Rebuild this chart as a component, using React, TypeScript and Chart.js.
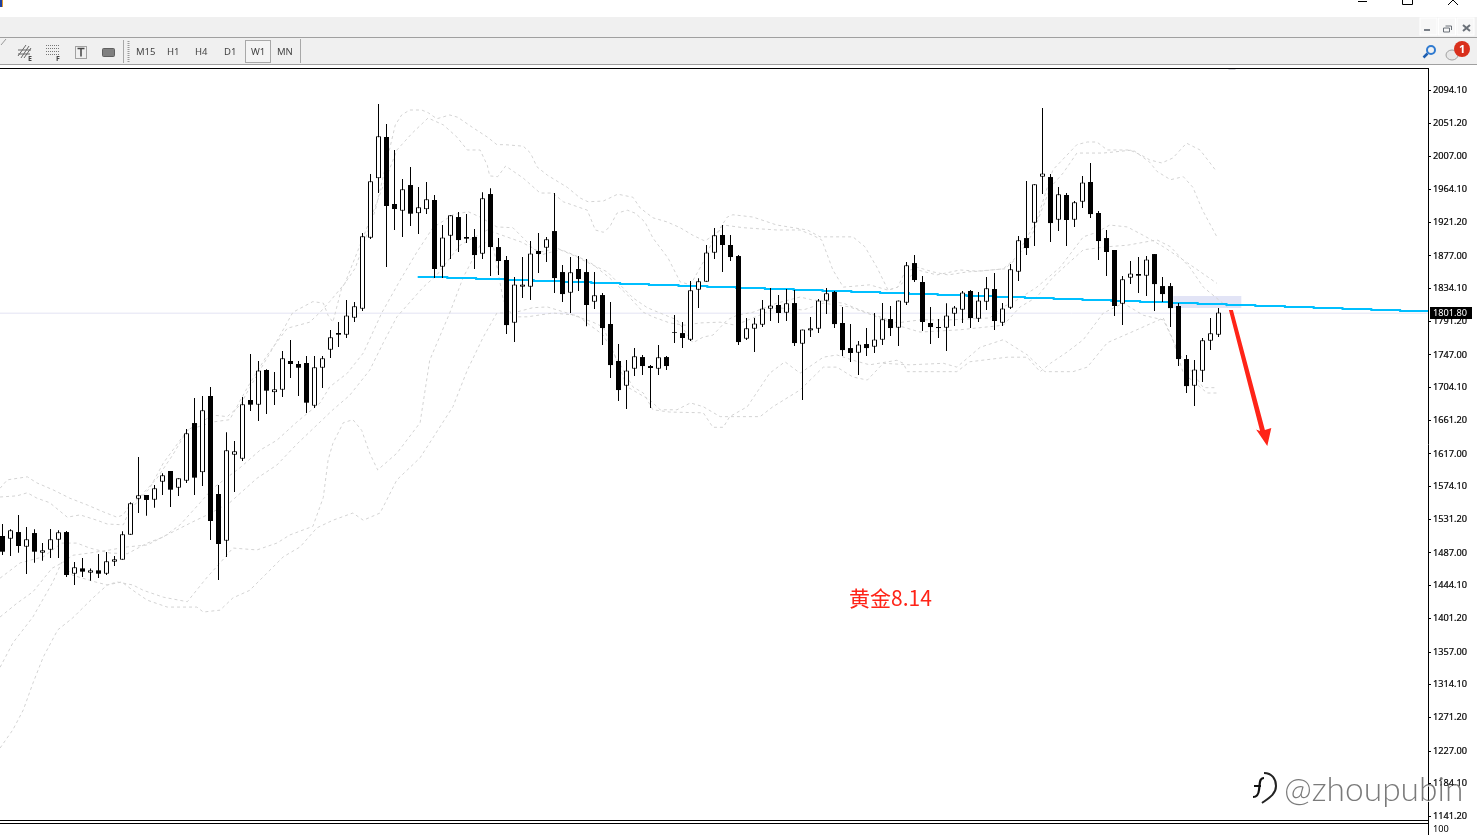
import React, { useEffect, useRef } from "react";
import { Chart, registerables } from "chart.js";

Chart.register(...registerables);

const highs = [1525.0,1518.0,1536.9,1521.1,1518.0,1500.1,1518.5,1516.7,1515.9,1475.2,1480.4,1466.8,1485.7,1488.3,1483.0,1515.4,1553.5,1613.0,1563.1,1576.2,1591.6,1594.6,1585.0,1649.8,1690.5,1693.1,1704.9,1576.2,1645.4,1634.0,
1691.8,1748.2,1739.0,1728.1,1724.6,1752.1,1766.6,1739.0,1745.6,1745.6,1745.6,1779.7,1790.2,1819.1,1816.5,1907.0,1984.5,2076.4,2050.1,2016.0,1977.9,1993.7,1967.4,1974.0,1956.9,1917.5,1930.2,1934.6,1932.0,
1912.3,1960.4,1965.7,1900.5,1876.8,1849.3,1875.5,1896.5,1907.0,1901.8,1959.5,1865.0,1875.5,1876.8,1872.9,1855.8,1828.3,1816.4,1761.3,1740.3,1756.0,1746.9,1733.7,1760.0,1745.5,1799.4,1790.2,1844.0,1847.5,1891.3,1913.6,
1917.5,1904.4,1878.1,1795.4,1795.4,1819.0,1834.8,1825.6,1833.5,1832.2,1780.5,1796.7,1820.4,1834.8,1830.9,1809.9,1787.5,1765.2,1782.3,1802.0,1815.1,1811.2,1818.6,1868.9,1878.1,1850.6,1809.9,1794.1,1814.7,1811.2,
1830.9,1832.2,1829.5,1849.2,1854.5,1815.1,1866.3,1903.1,1975.3,1970.9,2071.1,1984.5,1967.4,1959.5,1949.0,1981.8,1998.9,1935.9,1910.9,1884.7,1850.5,1870.2,1875.5,1876.8,1879.4,1849.2,1841.4,1815.1,1746.8,1740.3,1769.2,1795.4,1808.5];

const lows = [1484.3,1483.0,1487.4,1459.4,1474.3,1476.9,1480.4,1480.4,1455.5,1445.0,1455.5,1450.7,1454.2,1458.1,1469.9,1478.2,1511.0,1539.5,1536.0,1546.5,1563.1,1547.4,1561.8,1578.9,1563.1,1574.9,1504.0,1451.5,1481.7,1567.1,
1607.8,1673.4,1660.2,1669.4,1681.2,1691.7,1716.7,1693.0,1670.7,1677.3,1703.5,1742.9,1757.4,1769.2,1790.2,1804.6,1899.2,1959.5,1862.4,1911.0,1901.8,1916.2,1905.7,1932.0,1848.0,1848.0,1872.9,1882.1,1893.9,
1859.8,1872.9,1850.6,1851.9,1774.4,1763.9,1821.7,1819.1,1854.5,1869.0,1828.3,1816.4,1802.0,1830.9,1784.5,1807.2,1760.0,1716.7,1686.5,1676.0,1719.3,1720.6,1677.3,1720.6,1727.2,1762.6,1756.0,1765.2,1808.6,1843.1,1872.9,
1855.8,1870.2,1760.0,1766.5,1750.8,1783.6,1791.5,1788.9,1791.5,1758.7,1687.8,1770.5,1775.7,1800.7,1782.3,1745.5,1737.7,1720.6,1745.5,1749.5,1760.0,1771.8,1758.7,1812.5,1842.7,1778.4,1761.3,1769.2,1752.1,1784.9,
1788.8,1782.3,1790.2,1805.9,1779.7,1784.9,1807.2,1844.0,1878.1,1889.9,1958.2,1895.2,1909.6,1889.9,1914.9,1939.8,1926.7,1871.6,1850.5,1798.0,1786.2,1840.0,1828.2,1824.3,1804.6,1816.4,1783.6,1732.4,1696.9,1679.9,1711.4,1753.4,1770.5];

const opens = [1509.3,1505.8,1514.5,1495.3,1513.2,1487.4,1491.3,1504.5,1514.5,1459.8,1466.8,1461.2,1464.2,1459.8,1475.6,1478.2,1511.0,1558.3,1563.1,1557.0,1580.6,1594.6,1572.7,1581.9,1657.6,1592.9,1693.1,1564.4,1503.2,1616.1,
1610.8,1687.8,1681.7,1727.2,1697.9,1701.4,1739.0,1735.1,1736.4,1680.4,1730.2,1753.9,1775.8,1773.6,1795.9,1807.7,1900.9,1978.8,2033.1,1945.1,1936.4,1970.0,1932.9,1938.1,1950.4,1862.8,1903.5,1928.0,1901.8,
1901.8,1879.9,1958.2,1888.6,1871.6,1789.3,1836.6,1836.6,1883.4,1887.8,1909.6,1855.8,1828.7,1859.8,1855.8,1816.9,1825.6,1787.6,1739.0,1706.6,1728.9,1744.2,1732.4,1728.9,1744.2,1777.1,1775.7,1767.0,1832.6,1843.1,1881.2,
1904.4,1891.3,1876.8,1768.3,1781.4,1786.7,1807.7,1812.5,1802.4,1815.1,1761.7,1779.2,1781.4,1818.2,1829.6,1788.9,1756.0,1749.9,1761.3,1757.8,1767.0,1794.1,1782.7,1815.5,1867.6,1842.7,1788.9,1783.6,1782.7,1801.1,
1806.3,1830.9,1794.5,1816.9,1833.5,1789.3,1809.0,1856.2,1900.4,1920.6,1981.0,1980.5,1924.5,1956.9,1924.5,1948.1,1974.0,1933.3,1900.4,1884.7,1814.2,1848.4,1853.2,1851.0,1879.4,1837.4,1837.4,1811.2,1741.6,1706.6,1726.3,1765.7,1773.5];

const closes = [1488.7,1516.7,1496.2,1504.9,1488.7,1490.5,1504.9,1514.1,1458.1,1468.2,1462.5,1464.2,1459.8,1476.0,1478.7,1511.5,1552.2,1562.7,1556.6,1571.9,1588.9,1570.1,1585.0,1644.1,1585.9,1674.3,1529.0,1498.8,1621.8,1620.4,
1682.1,1681.7,1726.7,1700.1,1701.8,1742.5,1735.1,1730.2,1684.3,1730.7,1742.5,1770.1,1773.6,1798.9,1810.8,1902.7,1974.9,2033.9,1942.5,1938.5,1964.4,1932.4,1940.7,1951.2,1859.8,1901.3,1930.2,1897.8,1899.6,
1878.1,1952.5,1888.6,1870.3,1786.2,1839.6,1839.6,1880.3,1879.5,1898.7,1847.9,1826.9,1855.4,1846.6,1812.5,1825.2,1782.3,1733.7,1700.9,1726.7,1745.1,1732.4,1729.8,1743.8,1732.4,1776.2,1769.2,1831.8,1843.6,1881.6,1904.0,
1891.3,1875.5,1763.9,1781.9,1788.4,1808.1,1812.0,1802.0,1814.7,1762.6,1780.5,1781.9,1818.6,1827.8,1787.5,1753.4,1749.5,1760.8,1756.0,1767.4,1793.7,1782.3,1818.6,1864.6,1845.3,1790.2,1783.6,1782.3,1798.9,1809.4,
1829.1,1795.4,1818.6,1834.4,1791.5,1808.1,1859.3,1897.4,1887.3,1970.9,1985.3,1920.1,1957.8,1924.1,1947.3,1973.5,1931.9,1896.5,1882.1,1811.2,1846.2,1854.0,1851.0,1872.4,1840.0,1826.9,1808.5,1741.6,1706.1,1728.0,1766.1,1775.3,1802.8];

const yTickValues = [2094.1,2051.2,2007.0,1964.1,1921.2,1877.0,1834.1,1791.2,1747.0,1704.1,1661.2,1617.0,1574.1,1531.2,1487.0,1444.1,1401.2,1357.0,1314.1,1271.2,1227.0,1184.1,1141.2];

type Pt = [number, number];
const upperA: Pt[] = [[-0.3,1572],[0.6,1583],[3.1,1587],[4.3,1579],[6.3,1570],[8.4,1559],[10.6,1550],[12.6,1541],[14.3,1534],[15.1,1537],[15.7,1547],[17.2,1561],[19.3,1585],[21.3,1616],[23.1,1648],[26.3,1668],[28.1,1666],[29.7,1681],[30.9,1704],[33.8,1756],[36.3,1803],[38.8,1817],[40.1,1815],[40.7,1799],[41.3,1790],[42.4,1835],[44.1,1861],[46.6,1937],[49.1,2049],[49.9,2062],[50.9,2068.5],[52.4,2068.5],[53.2,2065],[54.3,2057],[55.9,2062],[56.9,2059],[58.7,2046],[60.6,2033],[61.8,2023],[62.8,2023],[65.1,2021],[66,2012],[66.8,1994],[68.1,1983],[70.6,1967],[72.2,1953],[73.2,1948],[75.1,1949],[76.9,1958],[78.8,1954],[79.7,1940],[81.3,1927],[83.1,1921.5],[84.7,1914],[86.3,1904],[87.8,1896.5],[89.3,1907],[90.6,1928],[91.3,1931],[93.8,1928],[96.8,1917.5],[100.6,1911],[102.2,1902],[106.3,1902],[107.8,1889],[109.3,1862],[110.7,1832],[111.9,1836],[112.8,1856],[114.4,1862],[116.3,1856],[118.2,1852],[120.6,1856],[122.2,1857],[125.1,1860],[126.6,1874],[128.1,1902],[129.3,1924],[131.3,1990],[134.3,2023],[135.6,2026.5],[136.8,2026.5],[138.1,2016],[140.9,2016],[142.4,2009],[143.4,2003],[144.9,1999],[146.3,2005.5],[148,2025],[149.7,2016],[151.6,1990]];
const upperB: Pt[] = [[-0.3,1560.5],[1.8,1562],[3.1,1566],[4.3,1559],[5.9,1553],[8.1,1534],[9.7,1537],[11.8,1530],[13.1,1525],[15.1,1524],[15.9,1543],[18.4,1572],[20.1,1605],[23.1,1648],[26.3,1659],[28.4,1662],[30.6,1704],[33.1,1747],[35.6,1782],[38.4,1790],[39.7,1803],[40.9,1817],[42.8,1841],[46.2,1931],[49.3,2016],[51.2,2038],[53.2,2058],[55.1,2049],[56.8,2033],[58.1,2016],[59.7,2016],[60.6,1996],[60.9,1982],[61.9,1981],[62.9,1995],[65.1,1979],[67.2,1959.5],[68.8,1959.5],[70.1,1948],[73.1,1937],[74.1,1911],[75.1,1908],[75.9,1915],[76.8,1933],[78.1,1937],[79.1,1933],[80.3,1921.5],[81.3,1900.5],[83.2,1874],[84.7,1843],[86,1839],[87.6,1869],[88.8,1898],[90.1,1917.5],[92.6,1914],[96.8,1911],[99.7,1911],[101.3,1904],[102.4,1898],[103.8,1858.5],[105.1,1836],[108.4,1839],[110.7,1832],[111.9,1836],[114.4,1858.5],[116.8,1852],[119.7,1858.5],[121.8,1857],[125.3,1860],[126.8,1874],[128.8,1907],[131,1967],[132.6,1986],[134.3,2012],[137.6,2012],[141.3,2016],[143.4,2000],[144.3,1988],[146,1977],[147.6,1981],[148.8,1967],[150,1937],[151.8,1902]];
const midA: Pt[] = [[-0.3,1454],[2.2,1474],[5.1,1482],[7.4,1500],[9.3,1500],[10.9,1493.5],[13.4,1487],[15.6,1486],[18.1,1500],[20.1,1508],[22.2,1524],[24.7,1553],[26.3,1572],[29.7,1599],[32.2,1622],[34.3,1635],[36.8,1659],[39.7,1684],[40.9,1705],[43.1,1723],[45.1,1749.5],[47.4,1802],[49.7,1845],[51.8,1882],[53.8,1914],[56.3,1931],[58.2,1935],[59.7,1928],[61.8,1915],[63.8,1914],[65.6,1895],[67.2,1878],[69.7,1885],[71.3,1878],[73.8,1865],[75.6,1856],[77.2,1839],[78.8,1822],[80.6,1809],[82.2,1802],[84.3,1793],[86.3,1763],[87.6,1770.5],[88.8,1773],[90.6,1793],[91.8,1799],[93.8,1803],[96.8,1815],[99.7,1823],[101.3,1819],[105.1,1815],[107.2,1806],[110.1,1795.5],[111.8,1789],[114.7,1793],[118.4,1793],[123.4,1795.5],[125.1,1810],[126.8,1819],[129.3,1836],[132.2,1862],[135.1,1902],[136.8,1908],[138.4,1917.5],[140.6,1915],[142.6,1904],[145.1,1889],[148.1,1868],[151.8,1841]];
const midB: Pt[] = [[-0.3,1403],[1.8,1421],[3.8,1436],[6.2,1467],[7.6,1475],[8.8,1484],[10.9,1487],[13.4,1491],[15.6,1495],[18.1,1497.5],[20.6,1511],[23.8,1528],[25.6,1537],[28.4,1553],[31.8,1585],[34.3,1602.5],[36.9,1631],[39.7,1659],[41.3,1675],[43.4,1694],[45.9,1727],[47.6,1763],[49.3,1797],[52.6,1836],[54.3,1852],[57.2,1891],[60.6,1911],[64.9,1895],[67.2,1882],[69.3,1887],[70.6,1882],[73.4,1869],[75.9,1848],[78.1,1826],[80.1,1803],[81.3,1797],[83.4,1789],[85.3,1786],[87.2,1789],[89.7,1790],[91.6,1786],[93.8,1795.5],[96.8,1809],[100.1,1806],[102.6,1815],[105.9,1810],[109.3,1797],[111.8,1786],[114.7,1777],[119.7,1780],[125.1,1786],[127.2,1810],[129.3,1823],[131.3,1849],[135.1,1885],[138.1,1889],[140.6,1891],[144.3,1898],[146,1889],[148.4,1862],[150.1,1836],[153.1,1810]];
const lowerA: Pt[] = [[-0.3,1231],[1.3,1255],[2.6,1281],[3.8,1316],[5.1,1350.5],[6.9,1386],[8.8,1402],[11.3,1428],[13.1,1445],[14.9,1449],[16.3,1438],[18.1,1425],[20.6,1416],[24.3,1416],[25.1,1409.5],[27.2,1412],[28.8,1428],[30.9,1438],[33.1,1461],[35.1,1482],[37.2,1495],[39.3,1520],[41.3,1530],[43.8,1539.5],[45.1,1530],[47.2,1539.5],[49.3,1583],[52.2,1612],[56.3,1679],[58.1,1727],[60.1,1770.5],[61.8,1802],[63.8,1802],[66.3,1809],[68.1,1810],[70.6,1802],[73.8,1790],[75.1,1783.6],[78.1,1705],[80.9,1688],[82.2,1675],[84.3,1675],[86,1684],[87.6,1679],[89.7,1666],[94.7,1666],[96.3,1679],[99.7,1701],[102.6,1731],[104.3,1731],[106.3,1718],[108.1,1714],[110.1,1736],[113.4,1734],[117.6,1736],[119.3,1731],[122.2,1757],[125.1,1767],[128.1,1747],[130.3,1725],[133.8,1725],[135.6,1731],[138.1,1763],[141.8,1780],[145.1,1795.5],[146.3,1767],[147.6,1723],[150.6,1697],[151.8,1697]];
const lowerB: Pt[] = [[-0.3,1337],[1.3,1369],[3.8,1403],[6.3,1449],[7.4,1475],[8.7,1458],[11.6,1449],[13.1,1445],[14.3,1449],[16.3,1445],[17.6,1438],[20.1,1429],[23.1,1423],[25.6,1455.5],[27.2,1474],[28.8,1493.5],[31.8,1491],[34.3,1500],[35.9,1510.6],[38.8,1522],[40.1,1560],[40.7,1609],[41.3,1631],[42.6,1658],[43.8,1662],[44.9,1648],[45.9,1618],[46.9,1596],[49.3,1618],[52.2,1658],[53.4,1740],[55.9,1802],[57.6,1849],[59.7,1891],[61.2,1898],[62.6,1819],[63.8,1797],[65.6,1797],[68.8,1802],[71.8,1799],[75.1,1773],[78.8,1705],[80.1,1697],[81.3,1675],[83.4,1672],[87.6,1671],[88.8,1652],[90.1,1652],[90.9,1666],[93.1,1679],[95.9,1723],[97.8,1738],[99.7,1723],[102.6,1744],[104.3,1747],[106.3,1740],[108.4,1734],[111.8,1740],[112.6,1736],[113.1,1725],[119.3,1725],[120.9,1738],[125.6,1744],[128.1,1744],[129.7,1725],[131,1736],[133.1,1751],[135.1,1767],[137.6,1802],[140.1,1815],[142.6,1799],[145.1,1793],[147.2,1747],[150.1,1704],[151.8,1704]];

const trendLine: Pt[] = [[51.9,1849.29],[55.6,1847.98],[59.2,1846.67],[62.8,1845.35],[66.4,1844.04],[70,1842.73],[73.6,1841.42],[77.2,1840.10],[80.8,1838.79],[84.5,1837.48],[88.1,1836.17],[91.7,1834.85],[95.3,1833.54],[98.9,1832.23],[102.5,1830.92],[106.1,1829.60],[109.7,1828.29],[113.3,1826.98],[116.9,1825.67],[120.5,1824.35],[124.2,1823.04],[127.8,1821.73],[131.4,1820.42],[135,1819.10],[138.6,1817.79],[142.2,1816.48],[145.8,1815.17],[149.4,1813.85],[153,1812.54],[156.6,1811.23],[160.3,1809.92],[163.9,1808.60],[167.5,1807.29],[171.1,1805.98],[174.7,1804.67],[178.2,1804.67]];
const currentPrice = 1801.8;
const shadeBar = { x: 150.6, from: 1808.6, to: 1824.4 };
const arrowShape: Pt[] = [[153.3,1805.9],[153.8,1805.9],[157.8,1648.4],[158.6,1651],[158.1,1627.4],[156.7,1649],[157.2,1647]];

const toXY = (p: Pt[]) => p.map(([x, y]) => ({ x, y }));
const bandLines = [upperA, upperB, midA, midB, lowerA, lowerB];
const FONT = "'Noto Sans', sans-serif";

const overlayPlugin = {
  id: "overlay",
  afterDatasetsDraw(chart: any) {
    const { ctx, chartArea, scales } = chart;
    ctx.save();
    ctx.fillStyle = "#ff2418";
    ctx.beginPath();
    arrowShape.forEach(([x, y], i) => {
      const px = scales.x.getPixelForValue(x);
      const py = scales.y.getPixelForValue(y);
      if (i === 0) ctx.moveTo(px, py);
      else ctx.lineTo(px, py);
    });
    ctx.closePath();
    ctx.fill();
    ctx.fillStyle = "#000";
    ctx.fillRect(0, chartArea.top, chartArea.right + 1, 1);
    ctx.fillRect(0, chartArea.bottom, chartArea.right + 1, 1);
    ctx.fillRect(0, chartArea.bottom + 3, chartArea.right + 1, 1);
    ctx.fillRect(chartArea.right, chartArea.bottom, 1, 15);
    ctx.restore();
  },
  afterDraw(chart: any) {
    const { ctx, scales, chartArea } = chart;
    const y = Math.round(scales.y.getPixelForValue(currentPrice));
    ctx.save();
    ctx.fillStyle = "#000";
    ctx.fillRect(chartArea.right + 2, y - 6, 42, 12);
    ctx.fillStyle = "#fff";
    ctx.font = `9.2px ${FONT}`;
    ctx.textBaseline = "middle";
    ctx.fillText(currentPrice.toFixed(2), chartArea.right + 5, y);
    ctx.restore();
  },
};

function CandleChart() {
  const ref = useRef<HTMLCanvasElement>(null);
  useEffect(() => {
    const idx = highs.map((_, i) => i);
    const isUp = (i: number) => closes[i] > opens[i];
    const bar = { type: "bar" as const, grouped: false, inflateAmount: 0, borderSkipped: false };
    const chart = new Chart(ref.current!, {
      type: "bar",
      data: {
        datasets: [
          {
            ...bar,
            data: [{ x: shadeBar.x, y: [shadeBar.from, shadeBar.to] }],
            barThickness: 68,
            backgroundColor: "#e2e4f6",
            borderWidth: 0,
            order: 10,
          },
          {
            type: "line",
            data: [{ x: -1, y: currentPrice }, { x: 179, y: currentPrice }],
            borderColor: "#e3e3f3",
            borderWidth: 1,
            pointRadius: 0,
            order: 9,
          },
          ...bandLines.map((l) => ({
            type: "line" as const,
            data: toXY(l),
            borderColor: "#d3d3d3",
            borderWidth: 1,
            borderDash: [3, 3],
            pointRadius: 0,
            tension: 0,
            order: 8,
          })),
          {
            type: "line",
            data: toXY(trendLine),
            borderColor: "#00bfff",
            borderWidth: 2,
            stepped: true,
            pointRadius: 0,
            order: 6,
          },
          {
            ...bar,
            data: idx.map((i) => ({ x: i, y: [lows[i], highs[i]] })),
            barThickness: 1,
            backgroundColor: "#000",
            borderWidth: 0,
            order: 5,
          },
          {
            ...bar,
            data: idx.filter((i) => !isUp(i)).map((i) => ({ x: i, y: [opens[i], closes[i]] })),
            barThickness: 5,
            backgroundColor: "#000",
            borderWidth: 0,
            order: 3,
          },
          {
            ...bar,
            data: idx.filter(isUp).map((i) => ({ x: i, y: [opens[i], closes[i]] })),
            barThickness: 5,
            backgroundColor: "#fff",
            borderColor: "#000",
            borderWidth: 1,
            order: 2,
          },
        ] as any,
      },
      options: {
        responsive: false,
        animation: false,
        layout: { padding: { top: 68, bottom: 15, left: 0, right: 0 } },
        plugins: { legend: { display: false }, tooltip: { enabled: false } },
        scales: {
          x: { type: "linear", display: false, offset: false, min: -0.3125, max: 178.1875, grid: { display: false } },
          y: {
            position: "right",
            min: 1136.5,
            max: 2123.64,
            afterFit: (s: any) => { s.width = 49; },
            afterBuildTicks: (s: any) => { s.ticks = yTickValues.map((value) => ({ value })); },
            border: { color: "#000", width: 1 },
            grid: { drawOnChartArea: false, color: "#000", tickLength: 3 },
            ticks: {
              autoSkip: false,
              maxRotation: 0,
              color: "#000",
              padding: 2,
              textStrokeColor: "#000",
              textStrokeWidth: 0.2,
              font: { family: "'Noto Sans', sans-serif", size: 9.2 },
              callback: (v: any) => Number(v).toFixed(2),
            },
          },
        },
      } as any,
      plugins: [overlayPlugin],
    });
    return () => chart.destroy();
  }, []);
  return <canvas ref={ref} width={1477} height={835} style={{ position: "absolute", left: 0, top: 0, width: 1477, height: 835, display: "block" }} />;
}

const tf = ["M15", "H1", "H4", "D1", "W1", "MN"];
const tfX = [136, 167, 195, 224, 251, 277];
const abs = (left: number, top: number, width: number, height: number, extra: any = {}) => ({ position: "absolute" as const, left, top, width, height, ...extra });

export default function App() {
  useEffect(() => { document.body.style.margin = "0"; }, []);
  return (
    <div style={{ position: "fixed", left: 0, top: 0, width: 1477, height: 835, overflow: "hidden", background: "#fff", fontFamily: FONT }}>
      <div style={abs(0, 17, 1477, 20, { background: "#f0f0f0" })} />
      <div style={abs(0, 37, 1477, 1, { background: "#a0a0a0" })} />
      <div style={abs(0, 38, 1477, 26, { background: "#f0f0f0" })} />
      <div style={abs(0, 64, 1477, 1, { background: "#a0a0a0" })} />
      <CandleChart />
      <svg width={1477} height={70} style={{ position: "absolute", left: 0, top: 0 }}>
        <rect x={0} y={0} width={2} height={7} fill="#1d3f9e" />
        <rect x={2} y={0} width={1} height={7} fill="#e09a30" />
        <path d="M1358 1.5H1367" stroke="#000" />
        <path d="M1402.5 0V4.5H1412.5V0" stroke="#000" fill="none" />
        <path d="M1448 5L1453 0L1458 5" stroke="#000" fill="none" />
        {[1420, 1438.5, 1457].map((x) => <rect key={x} x={x} y={18} width={17} height={17} fill="#f7f7f7" stroke="#fff" />)}
        <path d="M1424 30H1430" stroke="#7a8088" strokeWidth={2} />
        <path d="M1443.5 28V32H1449.5V28H1443.5M1445.5 26H1451.5V30" stroke="#6a7078" fill="none" />
        <path d="M1463 25L1470 31M1470 25L1463 31" stroke="#6a7078" strokeWidth={2} />
        <path d="M6 39L1 45" stroke="#999" />
        <path d="M18 56L26 45M21 58L29 46M24 58L31 48M18 50H31M18 54H30" stroke="#666" fill="none" />
        <text x={28} y={61} fontSize={7} fontWeight={700} fill="#444">E</text>
        <path d="M46 45.5H59M46 48.5H59M46 51.5H59M46 54.5H59" stroke="#777" strokeDasharray="1 1" />
        <text x={56} y={61} fontSize={7} fontWeight={700} fill="#444">F</text>
        <rect x={75.5} y={46.5} width={11} height={12} fill="none" stroke="#555" strokeDasharray="1 1" />
        <path d="M77.5 48.5H84.5M81 48.5V56.5" stroke="#444" strokeWidth={1.5} />
        <rect x={102.5} y={48.5} width={12} height={8} rx={1} fill="#808080" stroke="#606060" />
        <path d="M123.5 40V63" stroke="#a8a8a8" />
        <path d="M128.5 41V62" stroke="#999" strokeDasharray="1 1" strokeWidth={2} />
        <path d="M300.5 39V63" stroke="#a8a8a8" />
        <rect x={245.5} y={40.5} width={25} height={22} fill="#f4f4f4" stroke="#a8a8a8" />
        <circle cx={1431} cy={50} r={4} fill="none" stroke="#2f7ad0" strokeWidth={2} />
        <path d="M1427.5 53.5L1423.5 57.5" stroke="#1f5fb0" strokeWidth={2.5} />
        <ellipse cx={1452} cy={55} rx={6} ry={5} fill="#e8e8e8" stroke="#a0a0a0" />
        <circle cx={1462} cy={49} r={8} fill="#d9301c" />
        <path d="M1228 69H1236L1232 73Z" fill="#d8d8e0" />
      </svg>
      {tf.map((t, i) => (
        <div key={t} style={{ position: "absolute", left: tfX[i], top: 45, fontSize: 9.5, lineHeight: "14px", color: "#444" }}>{t}</div>
      ))}
      <div style={{ position: "absolute", left: 1459, top: 41, width: 6, fontSize: 11, lineHeight: "16px", fontWeight: 700, color: "#fff" }}>1</div>
      <div style={{ position: "absolute", left: 849, top: 583, fontSize: 21, lineHeight: "28px", color: "#ff2418", fontFamily: "'Noto Sans CJK SC', sans-serif", whiteSpace: "nowrap" }}>黄金8.14</div>
      <div style={{ position: "absolute", left: 1433, top: 822, fontSize: 9.2, lineHeight: "13px", color: "#000" }}>100</div>
      <svg width={30} height={36} style={{ position: "absolute", left: 1250, top: 770 }}>
        <path d="M14 3C22 3 26 9 26 16C26 24 19 28 12 33" fill="none" stroke="#222" strokeWidth={2} />
        <path d="M4 16H11M14 8C9 8 10 14 9 20C8.5 25 6 27 3 27" fill="none" stroke="#111" strokeWidth={2.2} />
      </svg>
      <div style={{ position: "absolute", left: 1284, top: 766, fontSize: 33.5, lineHeight: "44px", color: "rgba(70,70,70,0.72)", textShadow: "1px 1px 0 rgba(255,255,255,0.9)", fontFamily: "Lato, 'Noto Sans', sans-serif", fontWeight: 300, whiteSpace: "nowrap" }}>@zhoupubin</div>
    </div>
  );
}
